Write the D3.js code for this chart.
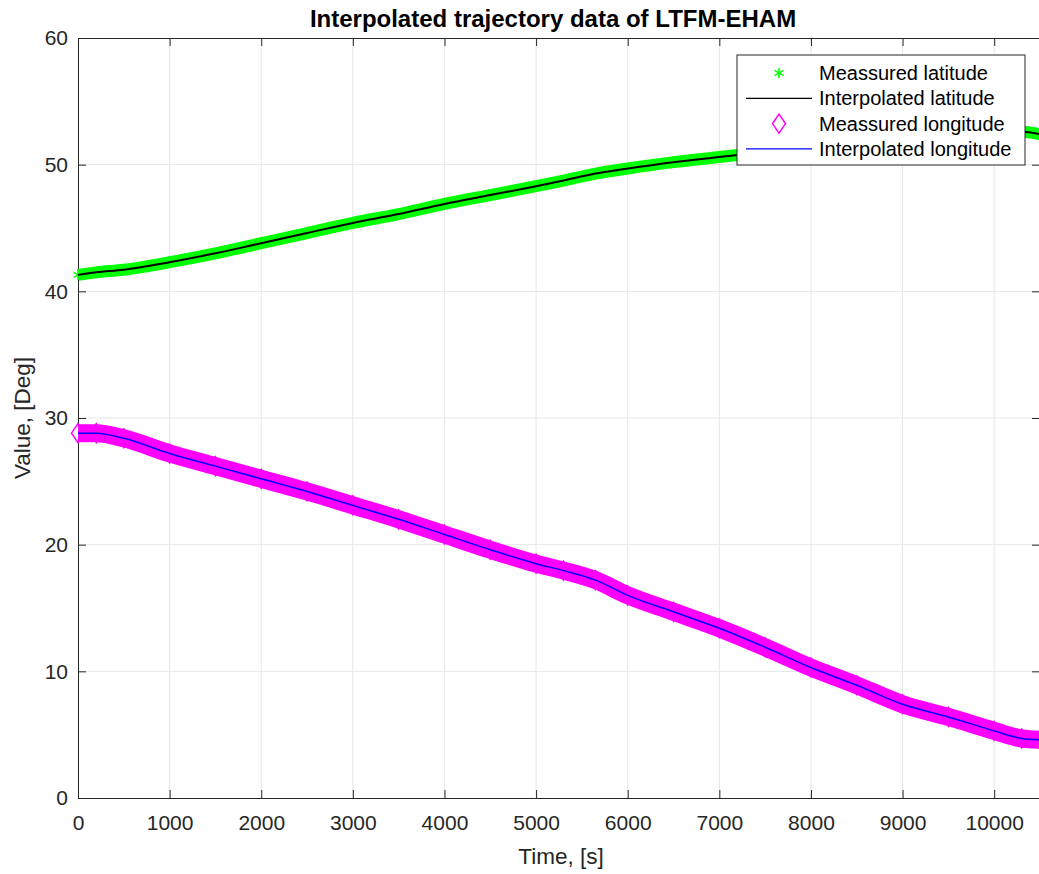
<!DOCTYPE html>
<html>
<head>
<meta charset="utf-8">
<script src="https://cdn.jsdelivr.net/npm/d3@7"></script>
<style>
  body { margin: 0; background: #fff; }
  svg { display: block; font-family: "Liberation Sans", Arial, sans-serif; }
  .axis text { fill: #262626; font-size: 21px; }
  .axis path, .axis line { stroke: #262626; }
</style>
</head>
<body>
<div class="main"></div>
<script>
// Data
const timeSec   = [0, 200, 500, 1000, 1500, 2000, 2500, 3000, 3500, 4000, 4500, 5000, 5300, 5650, 6000, 6500, 7000, 7500, 8000, 8500, 9000, 9500, 10000, 10300, 10500];
const latitude  = [41.3, 41.5, 41.7, 42.3, 43.0, 43.8, 44.6, 45.4, 46.1, 46.9, 47.6, 48.3, 48.75, 49.3, 49.7, 50.2, 50.6, 51.0, 51.4, 51.7, 52.0, 52.3, 52.5, 52.6, 52.4];
const longitude = [28.8, 28.8, 28.4, 27.2, 26.2, 25.2, 24.2, 23.1, 22.0, 20.8, 19.6, 18.5, 17.95, 17.2, 16.0, 14.7, 13.4, 11.9, 10.3, 8.9, 7.4, 6.4, 5.3, 4.7, 4.6];

const xTicks = [0, 1000, 2000, 3000, 4000, 5000, 6000, 7000, 8000, 9000, 10000];
const yTicks = [0, 10, 20, 30, 40, 50, 60];

const legendLabels = ["Meassured latitude", "Interpolated latitude", "Meassured longitude", "Interpolated longitude"];

// Visualisation setup
width = 1039;
height = 874;
plot = { left: 78, top: 38, right: 1040, bottom: 798 };
tickLen = 8;

svg = d3.select('.main').append('svg')
    .attr("width", width)
    .attr("height", height);

svg.append("rect").attr("width", width).attr("height", height).attr("fill", "#fff");

let xScale = d3.scaleLinear().domain([0, 10500]).range([plot.left, plot.right]);
let yScale = d3.scaleLinear().domain([0, 60]).range([plot.bottom, plot.top]);

// grid
let grid = svg.append("g").attr("class", "grid");
grid.selectAll(".gx").data(xTicks.slice(1)).enter().append("line")
    .attr("x1", d => xScale(d)).attr("x2", d => xScale(d))
    .attr("y1", plot.top).attr("y2", plot.bottom)
    .attr("stroke", "#e6e6e6").attr("stroke-width", 1);
grid.selectAll(".gy").data(yTicks.slice(1, -1)).enter().append("line")
    .attr("x1", plot.left).attr("x2", plot.right)
    .attr("y1", d => yScale(d)).attr("y2", d => yScale(d))
    .attr("stroke", "#e6e6e6").attr("stroke-width", 1);

// axes (ticks inward, box on)
const fmt = d3.format("d");
svg.append("g").attr("class", "x axis")
    .attr("transform", "translate(0," + plot.bottom + ")")
    .call(d3.axisBottom(xScale).tickValues(xTicks).tickFormat(fmt).tickSizeInner(-tickLen).tickSizeOuter(0).tickPadding(17));
svg.append("g").attr("class", "x axis top")
    .attr("transform", "translate(0," + plot.top + ")")
    .call(d3.axisTop(xScale).tickValues(xTicks).tickSizeInner(-tickLen).tickSizeOuter(0).tickFormat(""));
svg.append("g").attr("class", "y axis")
    .attr("transform", "translate(" + plot.left + ",0)")
    .call(d3.axisLeft(yScale).tickValues(yTicks).tickFormat(fmt).tickSizeInner(-tickLen).tickSizeOuter(0).tickPadding(10));
svg.append("g").attr("class", "y axis right")
    .attr("transform", "translate(" + plot.right + ",0)")
    .call(d3.axisRight(yScale).tickValues(yTicks).tickSizeInner(-tickLen).tickSizeOuter(0).tickFormat(""));
svg.selectAll(".axis text").attr("font-family", "Liberation Sans, Arial, sans-serif");

// marker shapes
const asterisk = d3.symbol().type(d3.symbolAsterisk).size(75);
function diamondPath(w, h) {
    return "M0," + (-h) + "L" + w + ",0L0," + h + "L" + (-w) + ",0Z";
}

let curve = d3.line().x(d => xScale(d[0])).y(d => yScale(d[1])).curve(d3.curveMonotoneX);
let latPts = timeSec.map((t, i) => [t, latitude[i]]);
let lonPts = timeSec.map((t, i) => [t, longitude[i]]);

// latitude: measured band + interpolated line
let series = svg.append("g").attr("class", "series");
series.append("path").datum(latPts)
    .attr("d", curve).attr("fill", "none")
    .attr("stroke", "#00ff00").attr("stroke-width", 12);
series.selectAll(".lat-m").data(latPts).enter().append("path")
    .attr("class", "lat-m")
    .attr("transform", d => "translate(" + xScale(d[0]) + "," + yScale(d[1]) + ")")
    .attr("d", asterisk).attr("fill", "none")
    .attr("stroke", "#00ff00").attr("stroke-width", 1.5);
series.append("path").datum(latPts)
    .attr("d", curve).attr("fill", "none")
    .attr("stroke", "#000").attr("stroke-width", 2);

// longitude: measured band + interpolated line
series.append("path").datum(lonPts)
    .attr("d", curve).attr("fill", "none")
    .attr("stroke", "#ff00ff").attr("stroke-width", 18);
series.selectAll(".lon-m").data(lonPts).enter().append("path")
    .attr("class", "lon-m")
    .attr("transform", d => "translate(" + xScale(d[0]) + "," + yScale(d[1]) + ")")
    .attr("d", diamondPath(6.5, 9.5)).attr("fill", "none")
    .attr("stroke", "#ff00ff").attr("stroke-width", 1.5);
series.append("path").datum(lonPts)
    .attr("d", curve).attr("fill", "none")
    .attr("stroke", "#0000ff").attr("stroke-width", 1.5);

// title and labels
svg.append("text")
    .attr("x", 553).attr("y", 27)
    .attr("text-anchor", "middle")
    .attr("font-size", "24px").attr("font-weight", "bold")
    .attr("fill", "#000")
    .text("Interpolated trajectory data of LTFM-EHAM");
svg.append("text")
    .attr("x", 561).attr("y", 864)
    .attr("text-anchor", "middle")
    .attr("font-size", "22.5px").attr("fill", "#262626")
    .text("Time, [s]");
svg.append("text")
    .attr("transform", "translate(30,418) rotate(-90)")
    .attr("text-anchor", "middle")
    .attr("font-size", "22.5px").attr("fill", "#262626")
    .text("Value, [Deg]");

// legend
let legend = svg.append("g").attr("class", "legend").attr("transform", "translate(737,55)");
legend.append("rect")
    .attr("width", 288).attr("height", 110)
    .attr("fill", "#fff").attr("stroke", "#262626").attr("stroke-width", 1);
let rows = legend.selectAll(".row").data(legendLabels).enter().append("g")
    .attr("class", "row")
    .attr("transform", (d, i) => "translate(0," + (18 + i * 25.3) + ")");
rows.append("text")
    .attr("x", 82).attr("dy", "0.35em")
    .attr("font-size", "20px").attr("fill", "#000")
    .text(d => d);
rows.filter((d, i) => i === 0).append("path")
    .attr("transform", "translate(42,0)")
    .attr("d", asterisk).attr("fill", "none")
    .attr("stroke", "#00ff00").attr("stroke-width", 1.5);
rows.filter((d, i) => i === 2).append("path")
    .attr("transform", "translate(42,0)")
    .attr("d", diamondPath(6.5, 9.5)).attr("fill", "none")
    .attr("stroke", "#ff00ff").attr("stroke-width", 1.5);
rows.filter((d, i) => i === 1 || i === 3).append("line")
    .attr("x1", 9).attr("x2", 75)
    .attr("stroke", (d, i) => i === 0 ? "#000" : "#0000ff")
    .attr("stroke-width", 1.2);
</script>
</body>
</html>
